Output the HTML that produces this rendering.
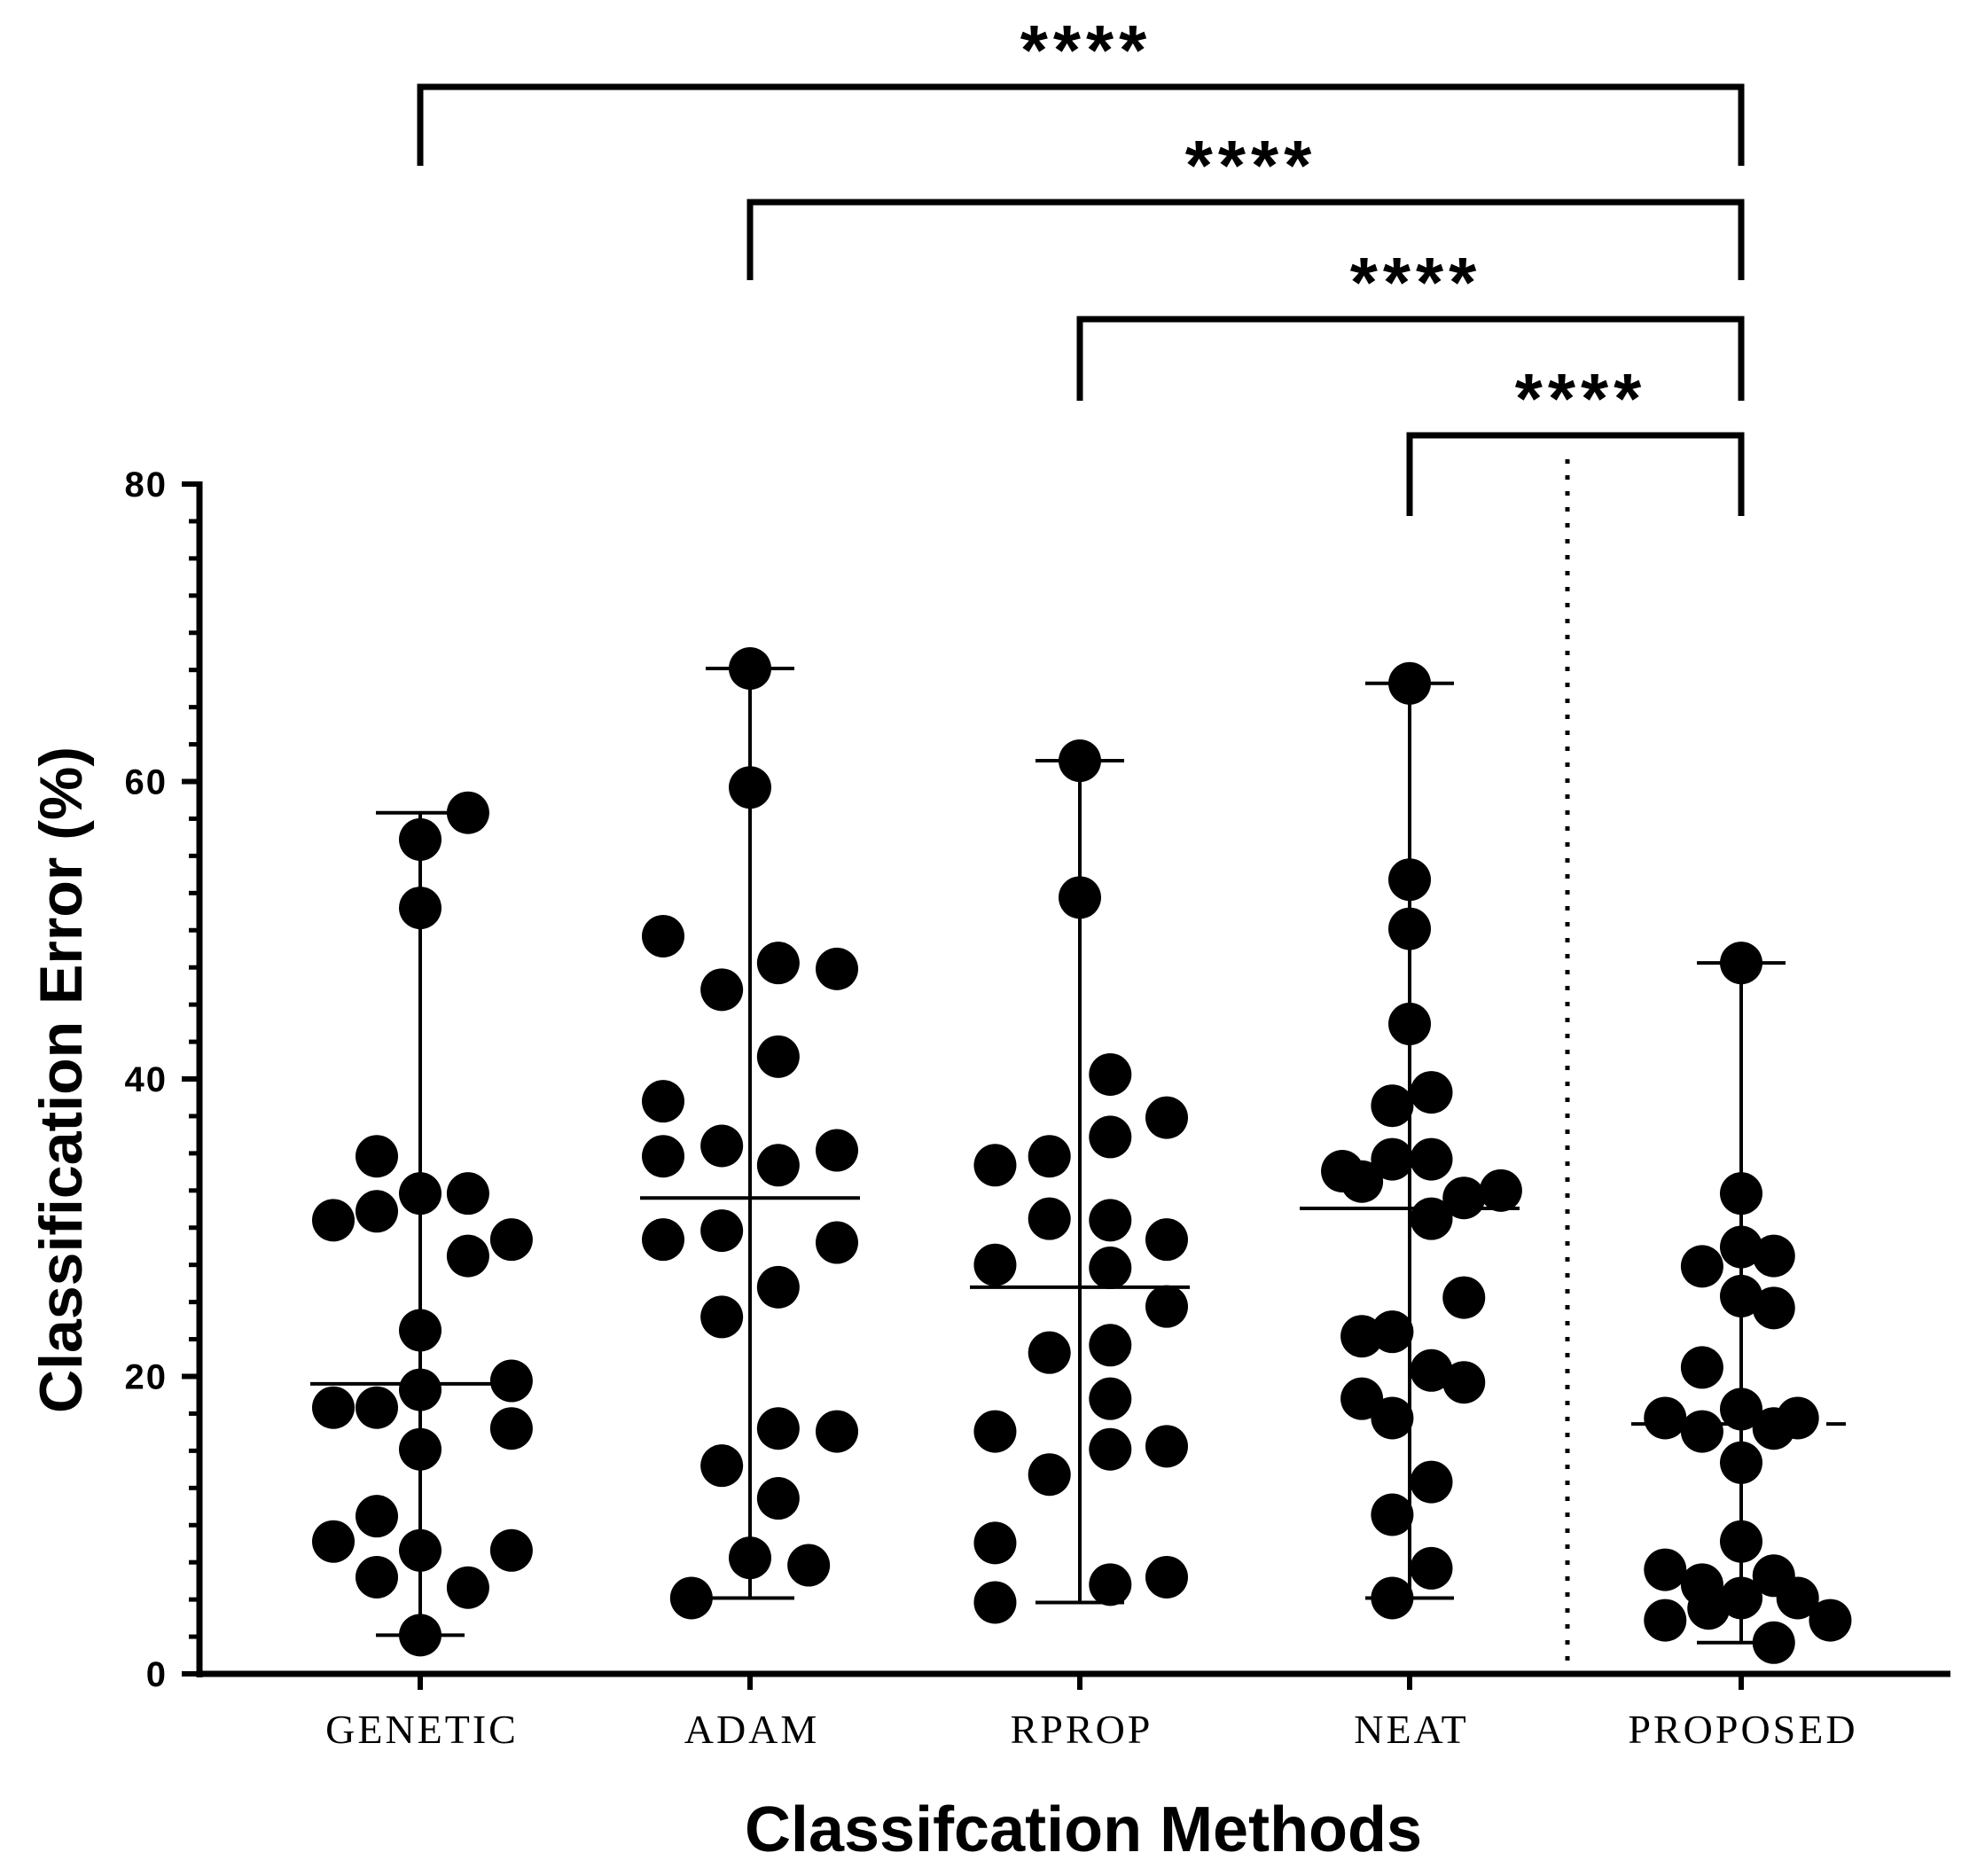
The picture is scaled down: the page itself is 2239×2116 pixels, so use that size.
<!DOCTYPE html>
<html><head><meta charset="utf-8"><style>
html,body{margin:0;padding:0;background:#fff;}
svg{display:block;}
</style></head><body>
<svg id="chart" width="2239" height="2116" viewBox="0 0 2239 2116" xmlns="http://www.w3.org/2000/svg">
<g id="brackets"></g>
<g id="axes"></g>
<g id="series"></g>
</svg>
<script>
const categories = ["GENETIC","ADAM","RPROP","NEAT","PROPOSED"];
const geneticVals = [2.6,57.9,56.1,51.5,34.8,30.5,31.1,32.3,32.3,28.1,29.2,23.1,19.1,17.9,17.9,19.7,16.5,15.1,10.6,8.9,8.3,8.3,6.5,5.8];
const geneticSlots = [0,1.1,0,0,-1,-2,-1,0,1.1,1.1,2.1,0,0,-2,-1,2.1,2.1,0,-1,-2,0,2.1,-1,1.1];
const adamVals = [67.6,59.6,49.6,46.0,47.8,47.4,41.5,38.5,34.8,35.5,34.2,35.2,29.2,29.8,29.0,26.0,24.0,14.0,16.5,16.3,11.8,7.8,7.3,5.1];
const adamSlots = [0,0,-2,-0.65,0.65,2,0.65,-2,-2,-0.65,0.65,2,-2,-0.65,2,0.65,-0.65,-0.65,0.65,2,0.65,0,1.35,-1.35];
const rpropVals = [61.4,52.2,40.3,37.4,34.2,34.8,36.1,30.6,30.5,29.2,27.5,27.3,24.7,21.6,22.1,18.5,16.3,15.1,15.3,13.4,8.8,6.5,6.0,4.8];
const rpropSlots = [0,0,0.7,2,-1.95,-0.7,0.7,-0.7,0.7,2,-1.95,0.7,2,-0.7,0.7,0.7,-1.95,0.7,2,-0.7,-1.95,2,0.7,-1.95];
const neatVals = [66.6,53.4,50.1,43.7,39.1,38.2,34.6,34.6,33.8,33.1,32.5,32.0,30.6,25.3,22.7,23.0,20.4,19.6,18.5,17.2,12.9,10.7,7.1,5.1];
const neatSlots = [0,0,0,0,0.5,-0.4,0.5,-0.4,-1.55,-1.1,2.1,1.25,0.5,1.25,-1.1,-0.4,0.5,1.25,-1.1,-0.4,0.5,-0.4,0.5,-0.4];
const proposedVals = [47.8,32.3,28.7,28.1,27.4,24.6,25.4,20.6,17.2,17.8,17.2,16.3,16.5,14.2,8.9,7.0,6.0,6.6,5.1,4.4,5.1,3.6,3.6,2.1];
const proposedSlots = [0,0,0,0.75,-0.9,0.75,0,-0.9,-1.75,0,1.3,-0.9,0.75,0,0,-1.75,-0.9,0.75,1.3,-0.75,0,-1.75,2.05,0.75];
const seriesVals = [geneticVals,adamVals,rpropVals,neatVals,proposedVals];
const seriesSlots = [geneticSlots,adamSlots,rpropSlots,neatSlots,proposedSlots];
const medians = [19.5,32.0,26.0,31.3,16.8];
const yTicks = [0,20,40,60,80];
const compareFrom = [0,1,2,3];
const compareLabels = ["****","****","****","****"];

const NS="http://www.w3.org/2000/svg";
const X0=225, X1=2200, Y0=1888, Y80=546;
const catX=[474,846,1218,1590,1964];
function yScale(v){return Y0-(v/80)*(Y0-Y80);}
function xScale(i){return catX[i];}
const SLOT=49, R=24;
function mk(tag,attrs,parent){const e=document.createElementNS(NS,tag);for(const k in attrs)e.setAttribute(k,attrs[k]);parent.appendChild(e);return e;}
const axes=document.getElementById('axes');
const series=document.getElementById('series');
const brackets=document.getElementById('brackets');

let yl=mk('line',{x1:X0,y1:Y80-3,x2:X0,y2:Y0+4,stroke:'#000','stroke-width':7},axes);


let xl=mk('line',{x1:X0-3,y1:Y0,x2:X1,y2:Y0,stroke:'#000','stroke-width':7},axes);


for(let v=0;v<=80;v+=2.5){
  const major=(v%20===0);
  const t=mk('line',{x1:X0-(major?20:12),y1:yScale(v),x2:X0,y2:yScale(v),stroke:'#000','stroke-width':major?6:5},axes);
  
  
}
yTicks.forEach(v=>{
  const t=mk('text',{x:X0-36,y:yScale(v)+14,'text-anchor':'end','font-family':'Liberation Sans, sans-serif','font-weight':'bold','font-size':40,'letter-spacing':2},axes);
  t.textContent=v;
  
  
});
const yt=mk('text',{x:0,y:0,transform:'translate(92,1218) rotate(-90)','text-anchor':'middle','font-family':'Liberation Sans, sans-serif','font-weight':'bold','font-size':68},axes);
yt.textContent='Classification Error (%)';


categories.forEach((c,i)=>{
  const t=mk('line',{x1:xScale(i),y1:Y0,x2:xScale(i),y2:Y0+18,stroke:'#000','stroke-width':6},axes);
  
  
  const l=mk('text',{x:xScale(i)+2,y:1966,'text-anchor':'middle','font-family':'Liberation Serif, serif','font-size':46,'letter-spacing':3},axes);
  l.textContent=c;
  
  
});
const xt=mk('text',{x:1222,y:2088,'text-anchor':'middle','font-family':'Liberation Sans, sans-serif','font-weight':'bold','font-size':72},axes);
xt.textContent='Classifcation  Methods';


const dv=mk('line',{x1:1768,y1:518,x2:1768,y2:1880,stroke:'#000','stroke-width':5,'stroke-dasharray':'5 13'},axes);



seriesVals.forEach((vals,i)=>{
  const cx=xScale(i);
  const mx=Math.max(...vals), mn=Math.min(...vals);
  const g=mk('g',{},series);
  
  
  const w=mk('line',{x1:cx,y1:yScale(mx),x2:cx,y2:yScale(mn),stroke:'#000','stroke-width':4},g);
  
  
  [mx,mn].forEach(v=>{
    const c=mk('line',{x1:cx-50,y1:yScale(v),x2:cx+50,y2:yScale(v),stroke:'#000','stroke-width':4},g);
    
    
  });
  vals.forEach((v,j)=>{
    const p=mk('circle',{cx:cx+seriesSlots[i][j]*SLOT,cy:yScale(v),r:R,fill:'#000'},g);
    
    
  });
  const md=mk('line',{x1:cx-124,y1:yScale(medians[i]),x2:cx+124,y2:yScale(medians[i]),stroke:'#000','stroke-width':4},g);
  if(i===4) md.setAttribute('stroke-dasharray','22 22');
  
  
});

const brY=[98,228,360,491], brTip=[187,316,452,582];
compareFrom.forEach((f,k)=>{
  const x1=xScale(f), x2=xScale(4);
  const p=mk('path',{d:`M${x1},${brTip[k]} V${brY[k]} H${x2} V${brTip[k]}`,fill:'none',stroke:'#000','stroke-width':7},brackets);
  
  
  const t=mk('text',{x:(x1+x2)/2+6,y:brY[k]-14,'text-anchor':'middle','font-family':'Liberation Sans, sans-serif','font-weight':'bold','font-size':80,'letter-spacing':6},brackets);
  t.textContent=compareLabels[k];
  
  
});
</script>
</body></html>
